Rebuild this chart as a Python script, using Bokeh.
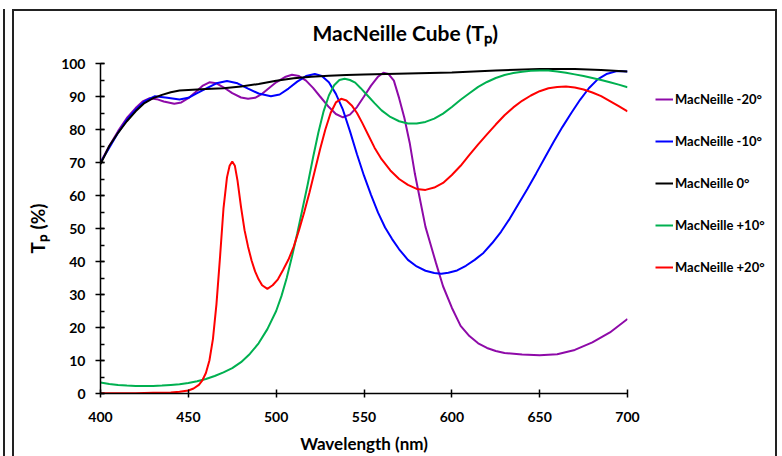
from bokeh.plotting import figure
from bokeh.models import Legend, LegendItem, SingleIntervalTicker
from bokeh.embed import file_html
from bokeh.resources import INLINE

# ---------------- data ----------------
series_names = ["MacNeille -20°", "MacNeille -10°", "MacNeille 0°", "MacNeille +10°", "MacNeille +20°"]

wl_m20 = [400, 405, 410, 415, 420, 424, 428, 432, 436, 442, 446, 450, 454, 458, 462, 466, 470, 475, 480, 484,
          488, 492, 496, 500, 505, 509, 513, 517, 521, 525, 530, 534, 538, 542, 546, 550, 554, 558, 561, 564,
          567, 570, 573, 576, 579, 582, 585, 588, 591, 595, 600, 605, 610, 615, 620, 625, 630, 640, 650, 660,
          670, 680, 690, 700]
tp_m20 = [70, 75, 79.5, 83.5, 86.5, 88.5, 89.5, 89.2, 88.5, 87.8, 88.2, 89.5, 91.3, 93.2, 94.3, 94, 92.8, 91, 89.7, 89.3,
          89.6, 90.8, 92.6, 94.3, 95.9, 96.6, 96.2, 94.8, 92.6, 90, 86.8, 84.7, 83.7, 84.5, 86.8, 90, 93.3, 96, 97.2, 96.8,
          94.8, 89.5, 83.5, 76, 66.5, 58.5, 50.5, 45, 39.5, 32.5, 26, 20.5, 17.4, 15.2, 13.8, 12.9, 12.3, 11.8, 11.6, 11.9,
          13.2, 15.5, 18.5, 22.6]

wl_m10 = [400, 405, 410, 415, 420, 425, 431, 438, 445, 450, 455, 460, 466, 472, 478, 484, 490, 497, 502, 507,
          512, 517, 522, 526, 530, 534, 538, 542, 546, 550, 554, 558, 562, 566, 570, 575, 580, 585, 590, 594,
          598, 603, 608, 613, 618, 623, 628, 633, 638, 643, 648, 653, 658, 663, 668, 673, 678, 683, 688, 694, 700]
tp_m10 = [70, 74.5, 79, 83, 86, 88.5, 90.1, 89.6, 89.1, 89.6, 91, 92.4, 94, 94.7, 94, 92.4, 90.9, 90.1, 90.6, 92.4,
          94.5, 96.2, 96.8, 96.2, 94.3, 90.8, 86, 79.5, 72.5, 66, 60.2, 54.8, 50.3, 46.8, 43.7, 40.5, 38.5, 37.2, 36.5, 36.3,
          36.6, 37.3, 38.7, 40.5, 42.6, 45.6, 49, 53, 57.5, 62, 66.7, 71.5, 76.3, 80.8, 85, 89, 92.5, 95.2, 96.8, 97.7, 97.6]

wl_0 = [400, 405, 410, 415, 420, 425, 430, 435, 440, 445, 450, 460, 470, 480, 490, 500, 510, 520, 530, 540,
        550, 575, 600, 625, 650, 670, 685, 700]
tp_0 = [69.5, 75, 79, 82.5, 85.5, 88, 89.5, 90.5, 91.3, 91.8, 92.0, 92.3, 92.5, 93.0, 93.8, 94.8, 95.5, 96.0, 96.3, 96.5,
        96.7, 97.0, 97.3, 97.9, 98.3, 98.3, 98.0, 97.6]

wl_p10 = [400, 405, 410, 415, 420, 425, 430, 435, 440, 445, 450, 455, 460, 465, 470, 475, 480, 485, 490, 495,
          500, 503, 506, 509, 512, 515, 518, 521, 524, 527, 530, 533, 536, 539, 542, 545, 548, 552, 556, 560,
          565, 570, 575, 580, 585, 590, 595, 600, 605, 610, 615, 620, 625, 630, 635, 640, 645, 650, 655, 660,
          665, 670, 675, 680, 685, 690, 695, 700]
tp_p10 = [3.3, 2.9, 2.6, 2.4, 2.3, 2.3, 2.3, 2.4, 2.6, 2.8, 3.2, 3.7, 4.4, 5.3, 6.4, 7.7, 9.5, 12, 15.2, 19.5,
          25, 29.5, 35, 41.5, 48.5, 56, 63.5, 71.5, 79, 85.5, 90.3, 93.4, 95, 95.4, 95, 94.2, 92.6, 90.3, 88, 85.8,
          83.8, 82.5, 81.8, 81.8, 82.3, 83.3, 84.8, 86.8, 89, 91, 92.9, 94.4, 95.6, 96.5, 97.1, 97.5, 97.8, 97.9, 97.9, 97.6,
          97.2, 96.7, 96.2, 95.6, 95, 94.3, 93.6, 92.8]

wl_p20 = [400, 410, 420, 430, 440, 445, 450, 453, 456, 458, 460, 462, 464, 466, 468, 470, 472, 473.5, 475, 476.5,
          478, 480, 482, 484, 486, 488, 490, 492, 495, 498, 501, 504, 507, 510, 513, 516, 519, 522, 525, 528,
          531, 534, 537, 540, 543, 546, 549, 552, 556, 560, 565, 570, 575, 580, 585, 590, 595, 600, 605, 610,
          615, 620, 625, 630, 635, 640, 645, 650, 655, 660, 665, 670, 675, 680, 685, 690, 695, 700]
tp_p20 = [0.1, 0.1, 0.1, 0.2, 0.3, 0.5, 0.9, 1.5, 2.6, 4, 6.2, 10, 16.5, 27, 41, 56, 65.5, 69, 70.3, 69,
          64.5, 56.5, 49.5, 44.5, 40.3, 37, 34.6, 32.8, 31.7, 32.8, 34.6, 37.5, 40.6, 44.5, 49.5, 55, 61, 67.5, 74, 80,
          85, 88.2, 89.3, 88.8, 87.3, 85, 82, 78.8, 74.5, 71, 67.6, 65, 63.2, 62, 61.7, 62.4, 63.8, 66.2, 69, 72.3,
          75.5, 78.5, 81.5, 84.3, 86.7, 88.7, 90.3, 91.6, 92.5, 92.9, 93, 92.7, 92.1, 91.2, 90.1, 88.6, 87.1, 85.5]

x_ticks = [400, 450, 500, 550, 600, 650, 700]

# ---------------- figure ----------------
FONT = "Lato"

p = figure(
    output_backend="svg", toolbar_location=None,
    frame_width=527, frame_height=330,
    x_range=(400, 700), y_range=(0, 100),
    min_border_left=100, min_border_right=155, min_border_top=63, min_border_bottom=60,
    background_fill_color="white", border_fill_color="white", border_fill_alpha=0,
    title="MacNeille Cube (Tₚ)",
)
# outer chart frame lines painted on the page background (no effect on layout)
line = "linear-gradient(#222222, #222222)"
p.styles = {
    "background": (f"{line} 3px 9px / 2px 100% no-repeat, "
                   f"{line} 12px 9px / 2px 100% no-repeat, "
                   f"{line} 12px 9px / 765px 2px no-repeat, "
                   f"{line} 775px 9px / 2px 100% no-repeat, #ffffff"),
}
p.outline_line_color = None
p.xgrid.visible = False
p.ygrid.visible = False

p.title.align = "left"
p.title.offset = 212
p.title.standoff = 35
p.title.vertical_align = "middle"
p.title.text_font = FONT
p.title.text_font_style = "bold"
p.title.text_font_size = "21px"
p.title.text_color = "black"

# axes
p.xaxis.ticker = x_ticks
p.yaxis.ticker = SingleIntervalTicker(interval=10, num_minor_ticks=2)
for ax in (p.xaxis[0], p.yaxis[0]):
    ax.axis_line_color = "black"
    ax.axis_line_width = 1.5
    ax.major_tick_line_color = "black"
    ax.major_tick_line_width = 1.5
    ax.minor_tick_line_color = "black"
    ax.minor_tick_line_width = 1.5
    ax.major_label_text_font = FONT
    ax.major_label_text_font_style = "bold"
    ax.major_label_text_font_size = "14px"
    ax.major_label_text_color = "black"
    ax.axis_label_text_font = FONT
    ax.axis_label_text_font_style = "bold"
    ax.axis_label_text_color = "black"

p.xaxis.major_tick_in = 4
p.xaxis.major_tick_out = 4
p.xaxis.minor_tick_line_color = None
p.xaxis.major_label_standoff = 14
p.xaxis.axis_label = "Wavelength (nm)"
p.xaxis.axis_label_text_font_size = "17px"
p.xaxis.axis_label_standoff = 8

p.yaxis.major_tick_in = 4
p.yaxis.major_tick_out = 5
p.yaxis.minor_tick_in = 4
p.yaxis.minor_tick_out = 0
p.yaxis.major_label_standoff = 10
p.yaxis.axis_label = "Tₚ (%)"
p.yaxis.axis_label_text_font_size = "19px"
p.yaxis.axis_label_standoff = 9

# lines
colors = ["#8E0AA8", "#0000FF", "#000000", "#00B050", "#FF0000"]
data = [(wl_m20, tp_m20), (wl_m10, tp_m10), (wl_0, tp_0), (wl_p10, tp_p10), (wl_p20, tp_p20)]
renderers = []
for (xs, ys), c in zip(data, colors):
    renderers.append(p.line(xs, ys, line_color=c, line_width=2))

legend = Legend(
    items=[LegendItem(label=n, renderers=[r]) for n, r in zip(series_names, renderers)],
    location=(28, 116),
    orientation="vertical",
    spacing=22, padding=0, margin=0,
    glyph_width=18, glyph_height=20, label_height=20, label_standoff=2,
    label_text_font=FONT, label_text_font_style="bold", label_text_font_size="13px",
    label_text_color="black",
    border_line_color=None, background_fill_alpha=0,
)
p.add_layout(legend, "right")

open("out.html", "w").write(file_html(p, INLINE))
